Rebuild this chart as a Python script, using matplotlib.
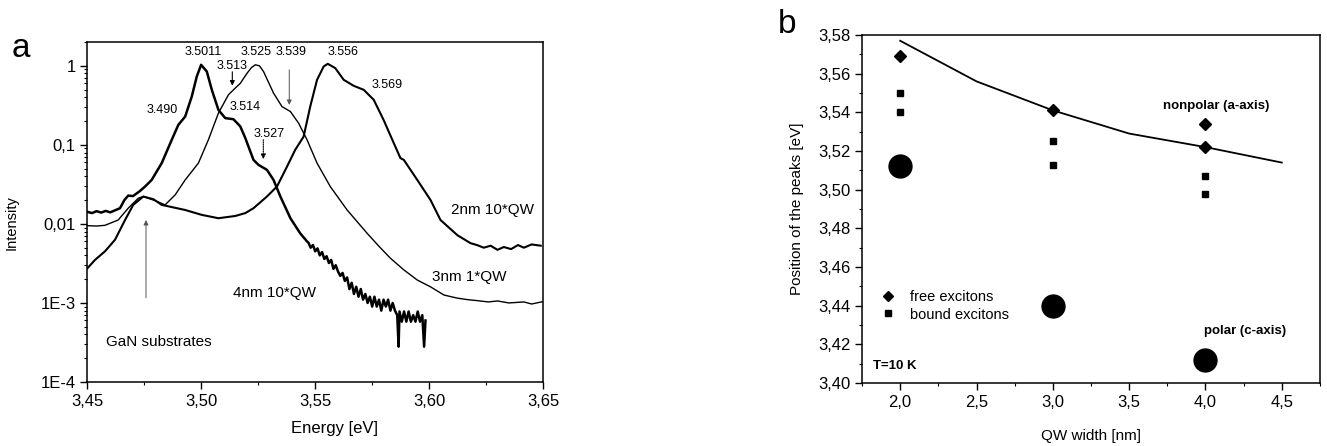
import matplotlib
matplotlib.use("Agg")
import matplotlib.pyplot as plt
from matplotlib.ticker import FuncFormatter, MultipleLocator, LogLocator, NullFormatter
from matplotlib.lines import Line2D

plt.rcParams['font.family'] = ['Liberation Sans', 'DejaVu Sans']

# ---- panel a: PL spectra ----
e_4nm = [3.4500, 3.4520, 3.4540, 3.4560, 3.4580, 3.4600, 3.4620, 3.4643, 3.4662, 3.4679,
         3.4700, 3.4730, 3.4753, 3.4782, 3.4826, 3.4870, 3.4899, 3.4929, 3.4958, 3.4980,
         3.4999, 3.5024, 3.5046, 3.5075, 3.5105, 3.5141, 3.5171, 3.5193, 3.5207, 3.5229,
         3.5251, 3.5288, 3.5317, 3.5347, 3.5391, 3.5434, 3.5464,
         3.5470, 3.5480, 3.5490, 3.5500, 3.5510, 3.5520, 3.5530, 3.5540, 3.5550, 3.5560,
         3.5570, 3.5580, 3.5590, 3.5600, 3.5610, 3.5620, 3.5630, 3.5640, 3.5650, 3.5660,
         3.5670, 3.5680, 3.5690, 3.5700, 3.5710, 3.5720, 3.5730, 3.5740, 3.5750, 3.5760,
         3.5770, 3.5780, 3.5790, 3.5800, 3.5810, 3.5820, 3.5830, 3.5840, 3.5850, 3.5860,
         3.5866, 3.5870, 3.5880, 3.5890, 3.5900, 3.5910, 3.5920, 3.5930, 3.5940, 3.5950,
         3.5960, 3.5970, 3.5978, 3.5984]
i_4nm = [0.0142, 0.0137, 0.0145, 0.0139, 0.0146, 0.0140, 0.0148, 0.0158, 0.0200, 0.0228,
         0.0225, 0.0260, 0.0297, 0.0360, 0.0587, 0.1157, 0.179, 0.228, 0.409, 0.733,
         1.03, 0.847, 0.497, 0.277, 0.218, 0.211, 0.171, 0.122, 0.095, 0.0645,
         0.0558, 0.0483, 0.0360, 0.0222, 0.0118, 0.0076, 0.0060,
         0.0058, 0.0050, 0.0054, 0.0045, 0.0049, 0.0040, 0.0044, 0.0036, 0.0039, 0.0032,
         0.0035, 0.0027, 0.0030, 0.0025, 0.0022, 0.0024, 0.0019, 0.0021, 0.0015, 0.0018,
         0.0013, 0.0016, 0.0012, 0.0015, 0.0011, 0.0013, 0.0010, 0.0012, 0.0009, 0.0012,
         0.0009, 0.0011, 0.0008, 0.0011, 0.0009, 0.0011, 0.0008, 0.0010, 0.0008, 0.0007,
         0.00028, 0.00078, 0.00058, 0.00078, 0.00058, 0.00078, 0.00058, 0.00070, 0.00058, 0.00078,
         0.00058, 0.00070, 0.00028, 0.00060]

e_3nm = [3.4500, 3.4540, 3.4577, 3.4635, 3.4679, 3.4723, 3.4745, 3.4797, 3.4841, 3.4885,
         3.4929, 3.4987, 3.5031, 3.5075, 3.5119, 3.5141, 3.5171, 3.5200, 3.5220, 3.5237,
         3.5255, 3.5273, 3.5317, 3.5354, 3.5391, 3.5427, 3.5464, 3.5508, 3.5566, 3.5640,
         3.5728, 3.5780, 3.5830, 3.5889, 3.5948, 3.6006, 3.6065, 3.6124, 3.6170, 3.6211,
         3.6260, 3.6300, 3.6350, 3.6416, 3.6450, 3.6500]
i_3nm = [0.0095, 0.0094, 0.0096, 0.0112, 0.0158, 0.0211, 0.0222, 0.0197, 0.0174, 0.0233,
         0.0360, 0.0587, 0.116, 0.252, 0.430, 0.497, 0.600, 0.800, 0.950, 1.03,
         1.00, 0.847, 0.451, 0.305, 0.264, 0.188, 0.116, 0.0587, 0.0297, 0.0150,
         0.0076, 0.0052, 0.00368, 0.00262, 0.00195, 0.00160, 0.00126, 0.00115, 0.00110, 0.00107,
         0.00103, 0.00106, 0.00100, 0.00103, 0.00097, 0.00104]

e_2nm = [3.4500, 3.4533, 3.4577, 3.4621, 3.4665, 3.4701, 3.4745, 3.4790, 3.4826, 3.4929,
         3.5002, 3.5075, 3.5149, 3.5193, 3.5229, 3.5288, 3.5332, 3.5376, 3.5412, 3.5449,
         3.5478, 3.5508, 3.5537, 3.5555, 3.5588, 3.5625, 3.5669, 3.5713, 3.5757, 3.5800,
         3.5845, 3.5874, 3.5889, 3.5948, 3.6006, 3.6050, 3.6124, 3.6182, 3.6210, 3.6240,
         3.6270, 3.6300, 3.6328, 3.6360, 3.6390, 3.6416, 3.6450, 3.6490]
i_2nm = [0.00275, 0.0035, 0.0045, 0.0063, 0.0112, 0.0174, 0.0222, 0.0205, 0.0174, 0.0150,
         0.0130, 0.0118, 0.0126, 0.0137, 0.0158, 0.0222, 0.0297, 0.0530, 0.0864, 0.127,
         0.305, 0.665, 0.98, 1.06, 0.935, 0.665, 0.558, 0.497, 0.371, 0.207,
         0.105, 0.068, 0.0645, 0.0360, 0.0201, 0.0112, 0.0072, 0.0057, 0.0054, 0.0050,
         0.0053, 0.0047, 0.0051, 0.0048, 0.0054, 0.0050, 0.0055, 0.0053]

peak_labels = ['3.5011', '3.525', '3.539', '3.556', '3.513', '3.569', '3.490', '3.514', '3.527']
peak_label_e = [3.5009, 3.5240, 3.5395, 3.5624, 3.5136, 3.5817, 3.4828, 3.5193, 3.5298]
peak_label_i = [1.50, 1.50, 1.50, 1.50, 1.00, 0.575, 0.277, 0.303, 0.138]

# ---- panel b: peak positions ----
qw_line_w = [2.0, 2.5, 3.0, 3.5, 4.0, 4.5]
qw_line_e = [3.577, 3.556, 3.541, 3.529, 3.522, 3.514]
free_w = [2.0, 3.0, 4.0, 4.0]
free_e = [3.569, 3.541, 3.534, 3.522]
bound_w = [2.0, 2.0, 3.0, 3.0, 4.0, 4.0]
bound_e = [3.550, 3.540, 3.525, 3.513, 3.507, 3.498]
polar_w = [2.0, 3.0, 4.0]
polar_e = [3.512, 3.440, 3.412]


def comma(v, pos):
    return ('%.2f' % v).replace('.', ',')


fig = plt.figure(figsize=(13.27, 4.46), dpi=100)

# panel a
ax = fig.add_axes([0.0659, 0.1435, 0.3433, 0.7623])
ax.plot(e_4nm, i_4nm, color='black', lw=1.8)
ax.plot(e_3nm, i_3nm, color='black', lw=1.0)
ax.plot(e_2nm, i_2nm, color='black', lw=1.5)
ax.set_yscale('log')
ax.set_xlim(3.45, 3.65)
ax.set_ylim(1e-4, 2)
ax.set_yticks([1e-4, 1e-3, 1e-2, 1e-1, 1])
ax.set_yticklabels(['1E-4', '1E-3', '0,01', '0,1', '1'])
ax.yaxis.set_minor_locator(LogLocator(base=10, subs=range(2, 10)))
ax.yaxis.set_minor_formatter(NullFormatter())
ax.xaxis.set_major_locator(MultipleLocator(0.05))
ax.xaxis.set_minor_locator(MultipleLocator(0.025))
ax.xaxis.set_major_formatter(FuncFormatter(comma))
ax.tick_params(which='major', direction='out', length=5, width=1, labelsize=12)
ax.tick_params(which='minor', direction='out', length=2.5, width=0.8)
ax.set_xlabel('Energy [eV]', fontsize=12)
ax.xaxis.set_label_coords(0.543, -0.115)
ax.set_ylabel('Intensity', fontsize=10.5)
ax.yaxis.set_label_coords(-0.15, 0.47)
for s in ax.spines.values():
    s.set_linewidth(1.1)

for t, x, y in zip(peak_labels, peak_label_e, peak_label_i):
    ax.text(x, y, t, fontsize=9, ha='center', va='center')

arr = dict(arrowstyle='-|>', color='black', lw=0.8, mutation_scale=7, shrinkA=0, shrinkB=0)
ax.annotate('', xy=(3.5136, 0.56), xytext=(3.5136, 0.84), arrowprops=arr)
ax.annotate('', xy=(3.5386, 0.32), xytext=(3.5386, 0.89),
            arrowprops=dict(arr, color='#555555', lw=0.7))
ax.annotate('', xy=(3.5272, 0.066), xytext=(3.5272, 0.116),
            arrowprops=dict(arr, linestyle=(0, (1, 1))))
ax.annotate('', xy=(3.4757, 0.0112), xytext=(3.4757, 0.00116),
            arrowprops=dict(arr, color='#555555', lw=0.7))

ax.text(3.4581, 0.00032, 'GaN substrates', fontsize=11, va='center')
ax.text(3.5140, 0.00134, '4nm 10*QW', fontsize=11, va='center')
ax.text(3.6094, 0.0150, '2nm 10*QW', fontsize=11, va='center')
ax.text(3.6014, 0.0021, '3nm 1*QW', fontsize=11, va='center')

fig.text(0.009, 0.872, 'a', fontsize=24)

# panel b
bx = fig.add_axes([0.6496, 0.1413, 0.3451, 0.7803])
bx.plot(qw_line_w, qw_line_e, color='black', lw=1.3)
bx.plot(free_w, free_e, 'D', color='black', ms=6)
bx.plot(bound_w, bound_e, 's', color='black', ms=4.5)
bx.plot(polar_w, polar_e, 'o', color='black', ms=16.5)
bx.set_xlim(1.75, 4.75)
bx.set_ylim(3.40, 3.58)
bx.xaxis.set_major_locator(MultipleLocator(0.5))
bx.xaxis.set_minor_locator(MultipleLocator(0.25))
bx.yaxis.set_major_locator(MultipleLocator(0.02))
bx.yaxis.set_minor_locator(MultipleLocator(0.01))
bx.xaxis.set_major_formatter(FuncFormatter(lambda v, p: ('%.1f' % v).replace('.', ',')))
bx.yaxis.set_major_formatter(FuncFormatter(comma))
bx.tick_params(which='major', direction='out', length=5, width=1, labelsize=12)
bx.tick_params(which='minor', direction='out', length=2.5, width=0.8)
bx.set_xlabel('QW width [nm]', fontsize=11, labelpad=14)
bx.set_ylabel('Position of the peaks [eV]', fontsize=11, labelpad=10)
for s in bx.spines.values():
    s.set_linewidth(1.1)

bx.text(4.07, 3.5433, 'nonpolar (a-axis)', fontsize=9.5, fontweight='bold', ha='center', va='center')
bx.text(4.26, 3.427, 'polar (c-axis)', fontsize=9.5, fontweight='bold', ha='center', va='center')
bx.text(1.82, 3.409, 'T=10 K', fontsize=9.5, fontweight='bold', va='center')

handles = [Line2D([], [], marker='D', ls='none', color='black', ms=5),
           Line2D([], [], marker='s', ls='none', color='black', ms=4)]
bx.legend(handles, ['free excitons', 'bound excitons'], loc='center left',
          bbox_to_anchor=(0.01, 0.222), frameon=False, fontsize=10.5,
          handlelength=1.2, handletextpad=0.9, labelspacing=0.25)

fig.text(0.586, 0.926, 'b', fontsize=24)

fig.savefig('out.png', dpi=100)
